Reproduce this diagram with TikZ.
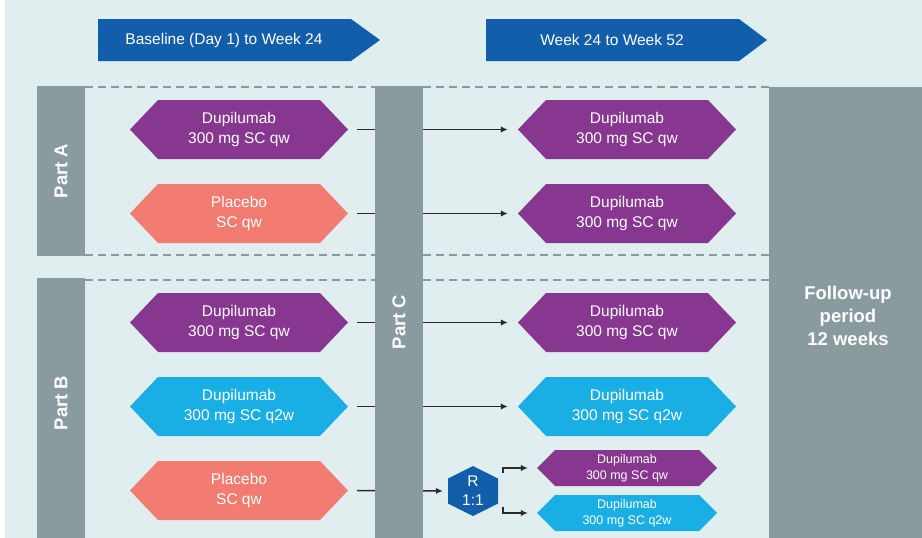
\documentclass[tikz,border=0pt]{standalone}
\usepackage{fontspec}
\setmainfont{Liberation Sans}
\usetikzlibrary{arrows.meta}
\definecolor{bgc}{HTML}{E0EEF0}
\definecolor{barc}{HTML}{899B9F}
\definecolor{bluec}{HTML}{125EAB}
\definecolor{purc}{HTML}{87378F}
\definecolor{salc}{HTML}{F27C71}
\definecolor{cyanc}{HTML}{1AAFE4}
\definecolor{linec}{HTML}{2B2B2B}
\newcommand{\hexa}[9]{%
  \fill[#7] (#2-#4/2,#3) -- (#2-#4/2+#6,#3-#5/2) -- (#2+#4/2-#6,#3-#5/2) -- (#2+#4/2,#3) -- (#2+#4/2-#6,#3+#5/2) -- (#2-#4/2+#6,#3+#5/2) -- cycle;
  \node[#9, minimum width=#4pt, minimum height=#5pt] (#1) at (#2,#3) {#8};
}
\begin{document}
\begin{tikzpicture}[x=1pt,y=-1pt,
  hextext/.style={align=center, text=white, inner sep=0pt, font=\fontsize{15.5}{20}\selectfont},
  smalltext/.style={hextext, font=\fontsize{12.5}{16}\selectfont},
  phasetext/.style={text=white, inner sep=0pt, font=\fontsize{15.5}{19}\selectfont},
  bartext/.style={text=white, inner sep=0pt, font=\bfseries\fontsize{18.5}{23}\selectfont},
  sep/.style={draw=barc, line width=1.4pt, dash pattern=on 8pt off 5pt},
  conn/.style={draw=linec, line width=1.4pt, -{Latex[length=7pt,width=6.5pt]}},
  bar/.style={fill=barc},
  purf/.style={fill=purc}, salf/.style={fill=salc}, cyanf/.style={fill=cyanc}, bluef/.style={fill=bluec}
]
\useasboundingbox (0,0) rectangle (922,538);
\fill[white] (0,0) rectangle (922,538);
\fill[bgc] (5,0) rectangle (922,538);

% phase arrows
\fill[bluef] (98,19) -- (351,19) -- (380,40) -- (351,61) -- (98,61) -- cycle;
\node[phasetext] (ph1) at (224,40) {Baseline (Day 1) to Week 24};
\fill[bluef] (486,19) -- (739,19) -- (767,40) -- (739,61) -- (486,61) -- cycle;
\node[phasetext] (ph2) at (612,40) {Week 24 to Week 52};

% dashed separators
\draw[sep] (85,87) -- (769,87);
\draw[sep] (85,255) -- (769,255);
\draw[sep] (85,280) -- (769,280);

% hexagons
\hexa{L1}{239}{129.5}{218}{59}{28}{purf}{Dupilumab\\300 mg SC qw}{hextext}
\hexa{L2}{239}{213.5}{218}{59}{28}{salf}{Placebo\\SC qw}{hextext}
\hexa{L3}{239}{322.5}{218}{59}{28}{purf}{Dupilumab\\300 mg SC qw}{hextext}
\hexa{L4}{239}{406.5}{218}{59}{28}{cyanf}{Dupilumab\\300 mg SC q2w}{hextext}
\hexa{L5}{239}{490.5}{218}{59}{28}{salf}{Placebo\\SC qw}{hextext}
\hexa{W1}{627}{129.5}{218}{59}{28}{purf}{Dupilumab\\300 mg SC qw}{hextext}
\hexa{W2}{627}{213.5}{218}{59}{28}{purf}{Dupilumab\\300 mg SC qw}{hextext}
\hexa{W3}{627}{322.5}{218}{59}{28}{purf}{Dupilumab\\300 mg SC qw}{hextext}
\hexa{W4}{627}{406.5}{218}{59}{28}{cyanf}{Dupilumab\\300 mg SC q2w}{hextext}

% connectors (behind Part C bar)
\draw[conn, shorten <=9pt, shorten >=10pt] (L1.east) -- (W1.west);
\draw[conn, shorten <=9pt, shorten >=10pt] (L2.east) -- (W2.west);
\draw[conn, shorten <=9pt, shorten >=10pt] (L3.east) -- (W3.west);
\draw[conn, shorten <=9pt, shorten >=10pt] (L4.east) -- (W4.west);

% randomisation hexagon
\fill[bluef] (473,466) -- (498,478.5) -- (498,503.5) -- (473,516) -- (448,503.5) -- (448,478.5) -- cycle;
\node[hextext, minimum width=50pt, minimum height=50pt, font=\fontsize{15.5}{19}\selectfont] (Rz) at (473,491) {R\\1:1};
\draw[conn, shorten <=9pt, shorten >=5pt] (L5.east) -- (Rz.west);

% small hexagons
\hexa{S1}{627}{468}{180}{36}{18}{purf}{Dupilumab\\300 mg SC qw}{smalltext}
\hexa{S2}{627}{513}{180}{36}{18}{cyanf}{Dupilumab\\300 mg SC q2w}{smalltext}
\coordinate (b1) at (503,473);
\coordinate (b2) at (503,507);
\draw[conn, shorten >=9pt] (b1) |- (S1.west);
\draw[conn, shorten >=9pt] (b2) |- (S2.west);

% bars
\fill[bar] (37,86) rectangle (85,256);
\node[bartext, rotate=90] (pa) at (61,171) {Part A};
\fill[bar] (37,278) rectangle (85,538);
\node[bartext, rotate=90] (pb) at (61,403) {Part B};
\fill[bar] (375,86) rectangle (423,538);
\node[bartext, rotate=90] (pc) at (399,322) {Part C};
\fill[bar] (769,87) rectangle (922,538);
\node[bartext, align=center] (fu) at (848,315.5) {Follow-up\\period\\12 weeks};
\end{tikzpicture}
\end{document}
